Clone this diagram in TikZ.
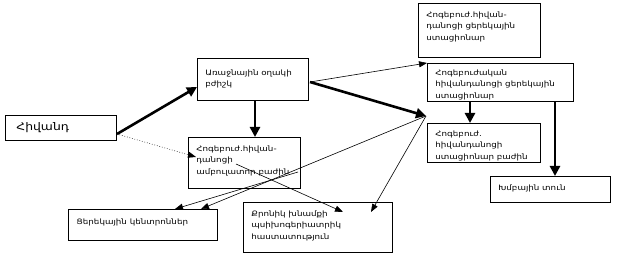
\documentclass[tikz,border=0pt]{standalone}
\usepackage{fontspec}
\setmainfont{DejaVu Sans}[FakeStretch=1.18]
\usetikzlibrary{arrows.meta,calc}
\newcommand\mybox[4][3pt]{\parbox[c][#3][t]{#2}{\vspace*{#1}\raggedright #4}}
\begin{document}
\begin{tikzpicture}[x=1pt,y=-1pt,
  box/.style={draw, line width=0.8pt, anchor=north west, inner xsep=8pt, inner ysep=5pt,
    font=\fontsize{7.4}{11.8}\selectfont},
  thickarr/.style={line width=2.6pt, -{Triangle[length=10pt,width=10pt]}},
  thinarr/.style={line width=0.6pt, -{Triangle[length=8pt,width=6pt]}},
  dotarr/.style={line width=0.6pt, dotted, -{Triangle[length=8pt,width=6pt]}}]
\useasboundingbox (0,0) rectangle (619,259);
% boxes
\node[box, inner xsep=11pt, font=\fontsize{10.5}{12}\selectfont] (pat) at (5,115) {\parbox[c][15pt][c]{89pt}{Հիվանդ}};
\node[box] (prim) at (197,58) {\mybox[6pt]{95pt}{32pt}{Առաջնային օղակի\\բժիշկ}};
\node[box] (amb) at (188,137) {\mybox{96pt}{41pt}{Հոգեբուժ.հիվան-\\դանոցի\\ամբուլատոր բաժին}};
\node[box] (dayst) at (418,3) {\mybox{106pt}{44pt}{Հոգեբուժ.հիվան-\\դանոցի ցերեկային\\ստացիոնար}};
\node[box] (mid) at (427,63) {\mybox[1pt]{130pt}{28pt}{Հոգեբուժական\\հիվանդանոցի ցերեկային\\ստացիոնար}};
\node[box] (inp) at (427,123) {\mybox[2pt]{97pt}{29pt}{Հոգեբուժ.\\հիվանդանոցի\\ստացիոնար բաժին}};
\node[box] (group) at (490,176) {\mybox{104pt}{16pt}{Խմբային տուն}};
\node[box] (dayc) at (68,209) {\mybox[4pt]{133pt}{21pt}{Ցերեկային կենտրոններ}};
\node[box] (chron) at (243,202) {\mybox{133pt}{40pt}{Քրոնիկ խնամքի\\պսիխոգերիատրիկ\\հաստատություն}};
% connector end points
\coordinate (p1) at (117,134);
\coordinate (p2) at (197,87);
\coordinate (d2) at (196,157);
\coordinate (r1) at (310,82);
\coordinate (hub) at (426,116);
\coordinate (a1) at (298,172);
\coordinate (a2) at (236,164);
\coordinate (dc1) at (175,209);
\coordinate (dc2) at (201,209);
\coordinate (ch1) at (343,212);
\coordinate (ch2) at (371,212);
% connectors
\draw[thickarr] (p1) -- (p2);
\draw[dotarr] (p1) -- (d2);
\draw[thickarr] (prim.south -| 255,0) -- (amb.north -| 255,0);
\draw[thinarr] (r1) -- (mid.north west);
\draw[thickarr] (r1) -- (hub);
\draw[thickarr] (mid.south -| 470,0) -- (inp.north -| 470,0);
\draw[thickarr] (mid.south -| 555,0) -- (group.north -| 555,0);
\draw[thinarr] (hub) -- (dc2);
\draw[thinarr] (hub) -- (ch2);
\draw[thinarr] (a1) -- (dc1);
\draw[thinarr] (a2) -- (ch1);
\end{tikzpicture}
\end{document}
